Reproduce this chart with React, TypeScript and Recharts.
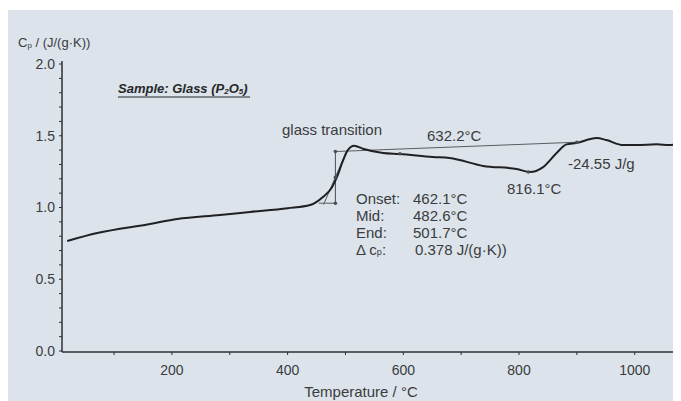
import React from "react";
import {
  LineChart,
  Line,
  XAxis,
  YAxis,
  ReferenceLine,
  ReferenceDot,
} from "recharts";

// Cp curve
const temps = [
  19, 71, 162, 209, 283, 335, 400, 439, 461, 477, 485, 496, 504, 515, 530,
  565, 594, 651, 680, 738, 796, 819, 841, 865, 882, 899, 934, 951, 980, 1003,
  1038, 1060, 1080,
];
const cpValues = [
  0.767, 0.822, 0.885, 0.92, 0.948, 0.969, 0.995, 1.017, 1.073, 1.143, 1.21,
  1.33, 1.4, 1.43, 1.41, 1.38, 1.373, 1.352, 1.345, 1.29, 1.268, 1.247, 1.28,
  1.38, 1.44, 1.45, 1.484, 1.47, 1.435, 1.435, 1.44, 1.435, 1.452,
];

const xTicks = [100, 200, 300, 400, 500, 600, 700, 800, 900, 1000];
const yTicks = [
  0, 0.1, 0.2, 0.3, 0.4, 0.5, 0.6, 0.7, 0.8, 0.9, 1.0, 1.1, 1.2, 1.3, 1.4, 1.5,
  1.6, 1.7, 1.8, 1.9, 2.0,
];

// glass transition construction
const onset = 462.1;
const mid = 482.6;
const end = 501.7;
const lowerCp = 1.03;
const upperCp = 1.39;
const peakBaseEnd = { t: 900, cp: 1.455 };

const results = [
  { label: "Onset:", value: "462.1°C" },
  { label: "Mid:", value: "482.6°C" },
  { label: "End:", value: "501.7°C" },
];

const data = temps.map((t, i) => ({ t, cp: cpValues[i] }));

const W = 673;
const H = 391;
const ink = "#2e3033";
const txt = "#3a3c40";
const font = "'Liberation Sans', Arial, sans-serif";
const fs = 15;

export default function App() {
  return (
    <div
      style={{
        position: "relative",
        width: W,
        height: H,
        marginTop: 2,
        background: "#dce3ea",
        fontFamily: font,
      }}
    >
      <LineChart
        width={W}
        height={H}
        data={data}
        margin={{ top: 51, right: 0, left: 0, bottom: 0 }}
      >
        <XAxis
          type="number"
          dataKey="t"
          domain={[10, 1080]}
          ticks={xTicks}
          allowDataOverflow
          height={49}
          tickSize={3}
          tickMargin={10}
          tickFormatter={(v: number) => (v % 200 === 0 ? String(v) : "")}
          tick={{ fill: txt, fontSize: 14, fontFamily: font }}
          axisLine={{ stroke: ink, strokeWidth: 1.5 }}
          tickLine={{ stroke: ink }}
        />
        <YAxis
          type="number"
          domain={[-0.007, 2.021]}
          ticks={yTicks}
          allowDataOverflow
          width={54}
          tickSize={3}
          tickMargin={4}
          interval={0}
          tickFormatter={(v: number) =>
            Math.abs((v * 10) % 5) < 0.001 ? v.toFixed(1) : ""
          }
          tick={{ fill: txt, fontSize: 14, fontFamily: font }}
          axisLine={{ stroke: ink, strokeWidth: 1.5 }}
          tickLine={{ stroke: ink }}
        />
        <ReferenceLine
          segment={[
            { x: onset - 8, y: lowerCp },
            { x: mid, y: lowerCp },
          ]}
          stroke="#5a5d62"
          strokeWidth={1}
        />
        <ReferenceLine
          segment={[
            { x: onset, y: lowerCp - 0.01 },
            { x: end, y: upperCp },
          ]}
          stroke="#5a5d62"
          strokeWidth={1}
        />
        <ReferenceLine
          segment={[
            { x: mid, y: upperCp },
            { x: peakBaseEnd.t, y: peakBaseEnd.cp },
          ]}
          stroke="#5a5d62"
          strokeWidth={1}
        />
        <ReferenceLine
          segment={[
            { x: mid, y: lowerCp },
            { x: mid, y: upperCp },
          ]}
          stroke="#4a4d52"
          strokeWidth={1}
        />
        <ReferenceDot x={mid} y={upperCp} r={1.8} fill="#4a4d52" stroke="none" />
        <ReferenceDot x={mid} y={lowerCp} r={1.8} fill="#4a4d52" stroke="none" />
        <ReferenceDot x={mid} y={1.21} r={1.8} fill="#4a4d52" stroke="none" />
        <ReferenceDot x={594} y={1.375} r={1.8} fill="#4a4d52" stroke="none" />
        <ReferenceDot x={816.1} y={1.247} r={1.8} fill="#4a4d52" stroke="none" />
        <ReferenceDot x={peakBaseEnd.t} y={peakBaseEnd.cp} r={1.8} fill="#4a4d52" stroke="none" />
        <Line
          type="monotone"
          dataKey="cp"
          stroke="#1f2023"
          strokeWidth={2}
          dot={false}
          isAnimationActive={false}
        />
      </LineChart>

      <svg
        width={W}
        height={H}
        style={{ position: "absolute", left: 0, top: 0, pointerEvents: "none" }}
        fontFamily={font}
      >
        <text x={10} y={32} fontSize={13} fill={txt} dominantBaseline="central">
          C<tspan fontSize={8} dy={3}>p</tspan>
          <tspan dy={-3}> / (J/(g·K))</tspan>
        </text>
        <text
          x={110}
          y={78}
          fontSize={13}
          fontWeight="bold"
          fontStyle="italic"
          fill="#26282b"
          dominantBaseline="central"
        >
          Sample: Glass (P<tspan fontSize={8} dy={3}>2</tspan>
          <tspan dy={-3}>O</tspan>
          <tspan fontSize={8} dy={3}>5</tspan>
          <tspan dy={-3}>)</tspan>
        </text>
        <line x1={110} y1={87} x2={242} y2={87} stroke="#26282b" strokeWidth={1.2} />
        <text x={274} y={119} fontSize={fs} fill={txt} dominantBaseline="central">
          glass transition
        </text>
        <text x={419} y={125} fontSize={fs} fill={txt} dominantBaseline="central">
          632.2°C
        </text>
        <text x={560} y={153} fontSize={fs} fill={txt} dominantBaseline="central">
          -24.55 J/g
        </text>
        <text x={499} y={178} fontSize={fs} fill={txt} dominantBaseline="central">
          816.1°C
        </text>
        {results.map((r, i) => (
          <g key={r.label}>
            <text x={348} y={188 + i * 17} fontSize={fs} fill={txt} dominantBaseline="central">
              {r.label}
            </text>
            <text x={405} y={188 + i * 17} fontSize={fs} fill={txt} dominantBaseline="central">
              {r.value}
            </text>
          </g>
        ))}
        <text x={348} y={239} fontSize={fs} fill={txt} dominantBaseline="central">
          Δ c<tspan fontSize={9} dy={3}>p</tspan>
          <tspan dy={-3}>:</tspan>
        </text>
        <text x={407} y={239} fontSize={fs} fill={txt} dominantBaseline="central">
          0.378 J/(g·K))
        </text>
        <text x={353} y={381} fontSize={15} fill={txt} textAnchor="middle" dominantBaseline="central">
          Temperature / °C
        </text>
      </svg>
    </div>
  );
}
